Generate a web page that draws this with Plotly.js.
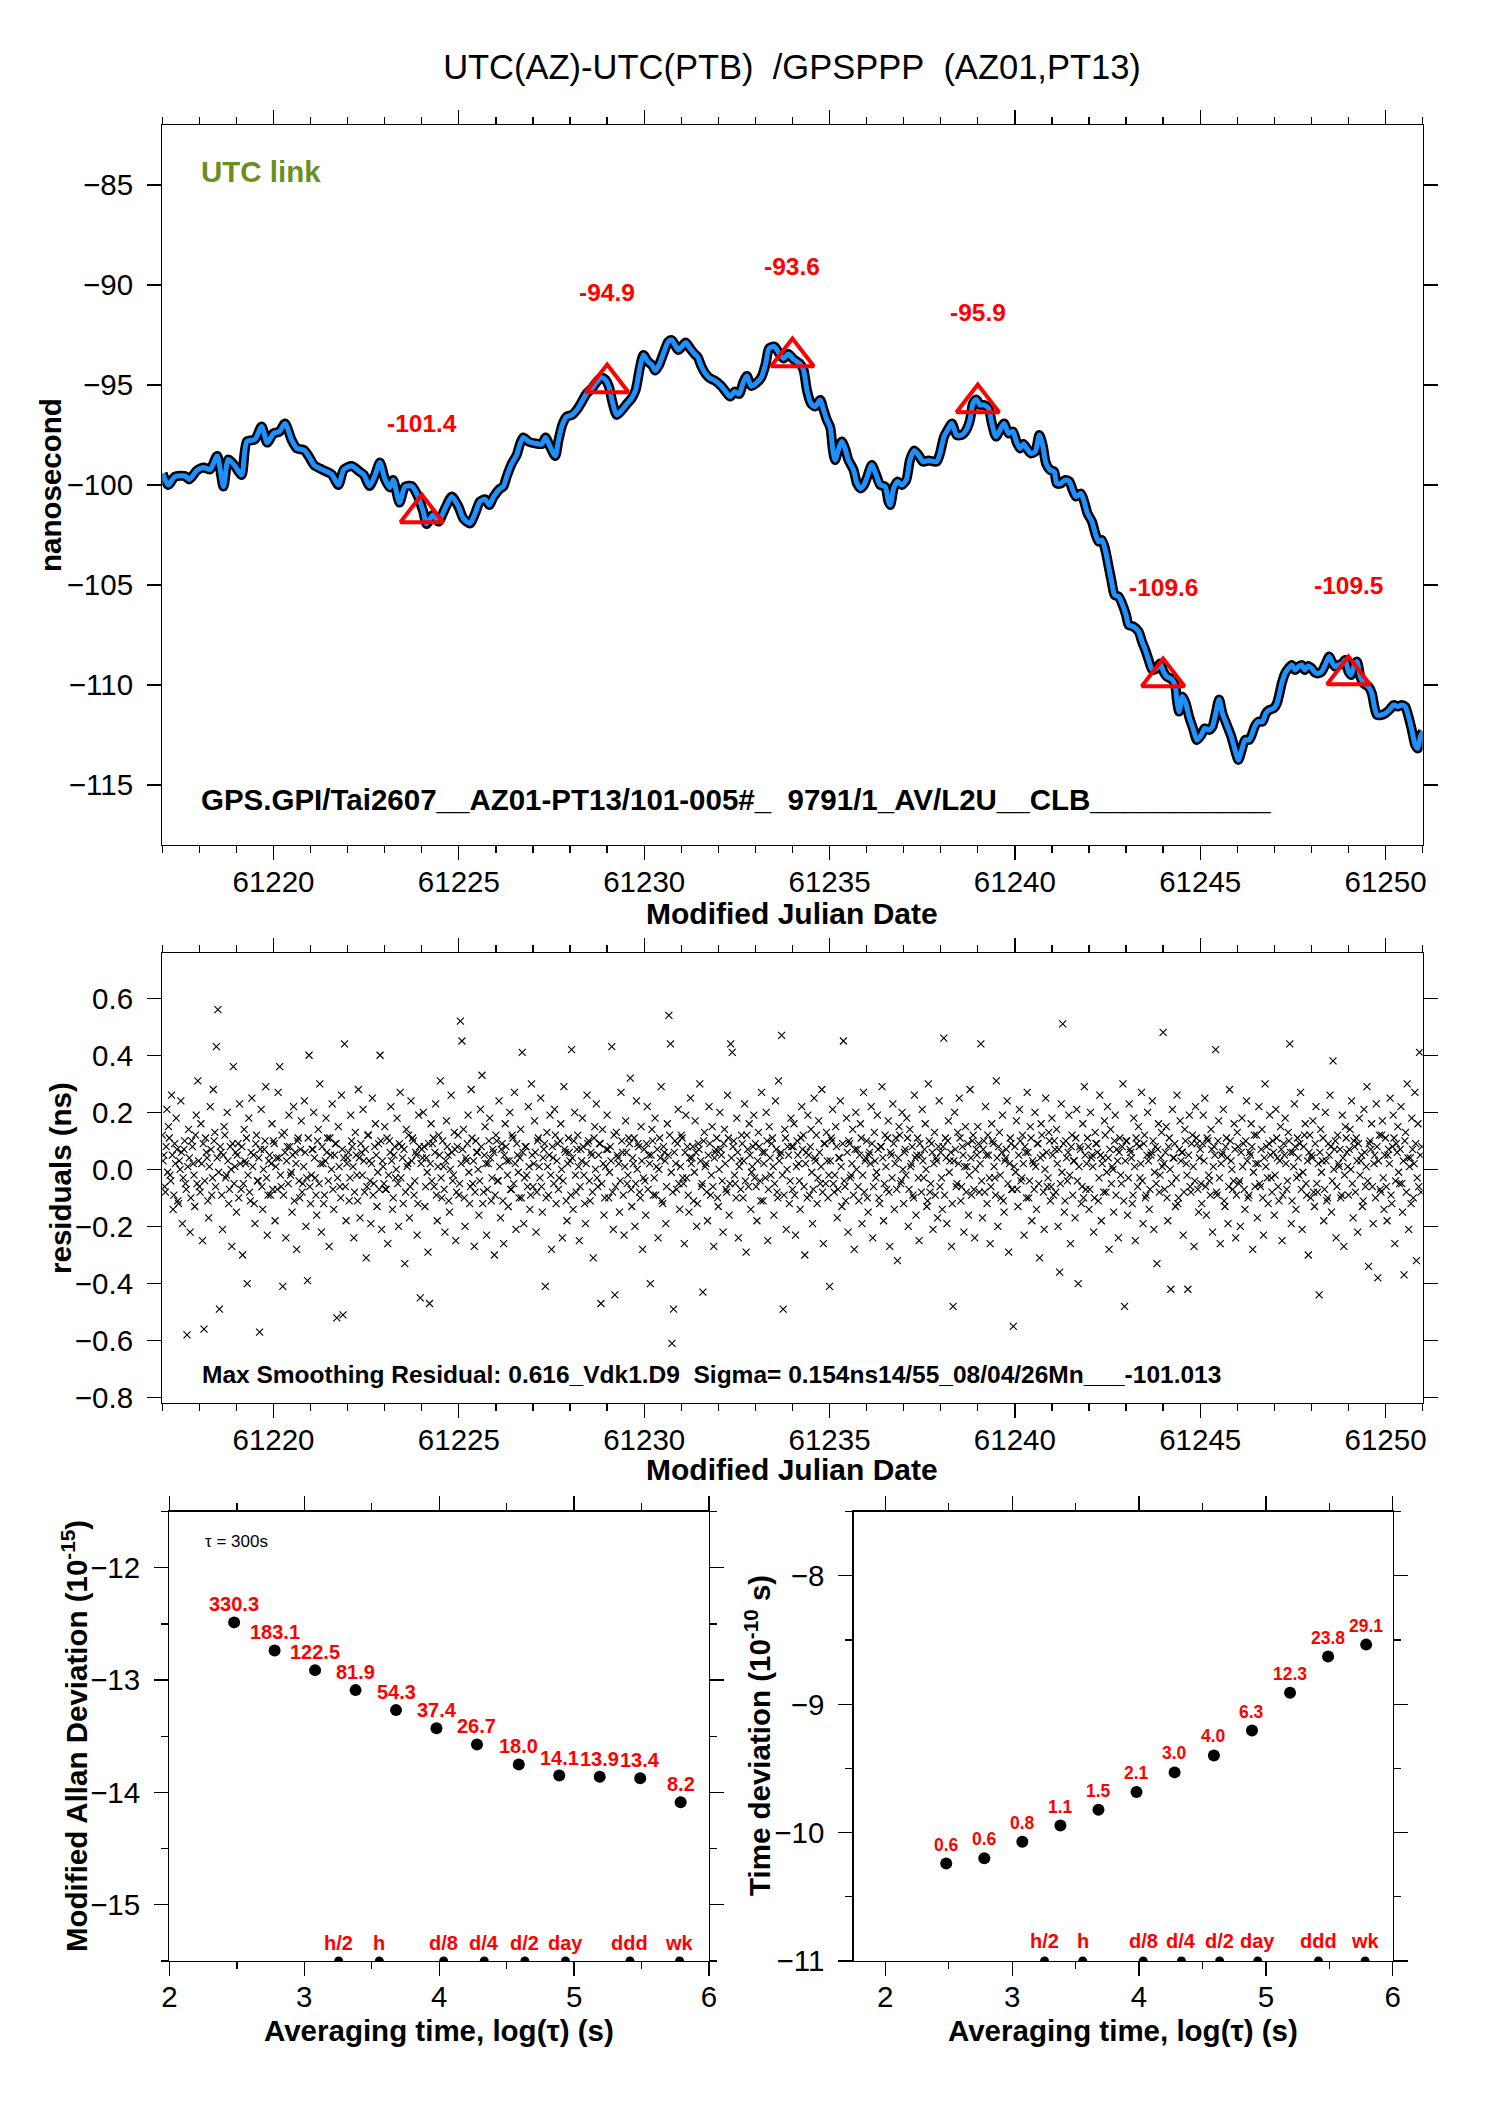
<!DOCTYPE html>
<html>
<head>
<meta charset="utf-8">
<script src="https://cdn.plot.ly/plotly-3.0.1.min.js"></script>
<style>html,body{margin:0;padding:0;background:#fff}</style>
</head>
<body>
<div id="chart" style="width:1488px;height:2105px"></div>
<script>
// ---------- DATA ----------
// Top panel: smoothed UTC(AZ)-UTC(PTB) curve (MJD, ns)
const smoothT = [61217.01,61217.16,61217.34,61217.61,61217.73,61217.93,61218.11,61218.29,61218.48,61218.65,61218.78,61218.96,61219.14,61219.28,61219.50,61219.68,61219.83,61220.00,61220.16,61220.31,61220.49,61220.63,61220.82,61220.97,61221.09,61221.30,61221.57,61221.75,61221.90,61222.11,61222.32,61222.44,61222.59,61222.74,61222.87,61223.01,61223.14,61223.23,61223.40,61223.55,61223.73,61223.86,61224.04,61224.13,61224.30,61224.45,61224.63,61224.81,61224.99,61225.12,61225.30,61225.44,61225.57,61225.71,
61225.82,61225.93,61226.09,61226.20,61226.29,61226.43,61226.56,61226.65,61226.74,61226.88,61227.06,61227.24,61227.34,61227.46,61227.60,61227.69,61227.79,61227.91,61228.05,61228.18,61228.32,61228.45,61228.59,61228.69,61228.84,61228.96,61229.05,61229.14,61229.26,61229.40,61229.53,61229.66,61229.77,61229.89,61229.98,61230.10,61230.21,61230.30,61230.40,61230.52,61230.65,61230.74,61230.83,61230.92,61231.03,61231.12,61231.24,61231.36,61231.45,61231.54,61231.66,61231.78,61231.91,61232.08,61232.20,61232.32,61232.44,61232.56,61232.68,61232.77,61232.89,61233.04,61233.17,61233.28,61233.37,61233.51,61233.64,61233.76,61233.89,61234.03,61234.21,
61234.30,61234.39,61234.50,61234.61,61234.75,61234.84,61234.93,61235.02,61235.09,61235.15,61235.24,61235.33,61235.42,61235.51,61235.65,61235.74,61235.84,61235.93,61236.02,61236.14,61236.26,61236.37,61236.50,61236.59,61236.64,61236.73,61236.83,61236.95,61237.07,61237.17,61237.28,61237.40,61237.52,61237.67,61237.89,61237.98,61238.09,61238.21,61238.30,61238.43,61238.57,61238.69,61238.79,61238.87,61238.96,61239.06,61239.17,61239.29,61239.38,61239.49,61239.60,61239.71,61239.83,61239.95,61240.05,61240.14,61240.23,61240.34,61240.43,61240.55,61240.66,61240.75,61240.84,61240.95,61241.06,61241.13,61241.24,61241.36,61241.47,61241.56,61241.65,61241.78,61241.87,61241.96,61242.08,61242.17,61242.26,61242.35,61242.44,61242.53,
61242.62,61242.69,61242.80,61242.89,61243.00,61243.07,61243.20,61243.34,61243.43,61243.52,61243.61,61243.71,61243.83,61243.92,61244.01,61244.10,61244.24,61244.33,61244.37,61244.43,61244.52,61244.61,61244.70,61244.82,61244.91,61245.03,61245.12,61245.24,61245.33,61245.42,61245.51,61245.60,61245.72,61245.84,61245.94,61246.03,61246.12,61246.21,61246.32,61246.39,61246.47,61246.57,61246.68,61246.77,61246.86,61246.98,61247.07,61247.13,61247.20,61247.29,61247.38,61247.47,61247.56,61247.65,61247.74,61247.82,61247.91,61248.01,61248.10,61248.19,61248.28,61248.37,61248.48,61248.55,61248.64,61248.73,61248.82,61248.91,61249.00,61249.07,61249.16,61249.23,61249.32,61249.41,61249.54,61249.63,61249.70,61249.77,61249.88,61249.99,61250.10,61250.22,61250.33,61250.44,61250.53,61250.62,61250.71,61250.80,61250.87,61250.94,61251.01];
const smoothV = [-99.42,-100.0,-99.58,-99.55,-99.72,-99.28,-99.12,-99.22,-98.55,-100.08,-98.72,-99.05,-99.5,-97.83,-97.72,-97.08,-97.88,-97.42,-97.33,-96.92,-97.75,-98.17,-98.25,-98.62,-99.0,-99.22,-99.47,-100.0,-99.22,-99.05,-99.33,-99.5,-100.05,-99.5,-98.88,-99.72,-100.12,-99.75,-100.88,-100.08,-100.05,-100.42,-101.33,-101.95,-101.5,-101.83,-101.17,-100.58,-101.08,-101.67,-101.92,-101.42,-100.83,-100.72,
-101.0,-100.62,-100.22,-100.08,-99.58,-98.92,-98.5,-97.95,-97.62,-97.83,-97.92,-97.95,-97.62,-98.08,-98.55,-97.75,-97.0,-96.58,-96.5,-96.25,-95.83,-95.42,-95.17,-94.92,-94.62,-94.75,-95.08,-95.83,-96.5,-96.25,-95.95,-95.67,-95.25,-94.08,-93.5,-93.83,-94.0,-94.28,-94.0,-93.42,-92.83,-92.75,-93.0,-93.25,-93.05,-92.88,-93.17,-93.45,-93.62,-94.05,-94.45,-94.67,-94.78,-95.05,-95.33,-95.58,-95.33,-95.45,-94.83,-94.55,-95.05,-94.88,-94.58,-93.92,-93.17,-93.08,-93.42,-93.67,-93.45,-93.72,-93.95,
-94.25,-95.25,-95.92,-96.08,-95.75,-96.25,-96.75,-97.12,-98.25,-98.75,-98.25,-97.83,-98.17,-98.75,-99.25,-99.92,-100.17,-100.0,-99.58,-99.0,-99.5,-100.0,-100.08,-100.83,-101.0,-100.17,-99.83,-100.0,-99.75,-98.75,-98.28,-98.5,-98.83,-98.78,-98.83,-98.42,-97.58,-97.17,-96.92,-97.5,-97.5,-97.25,-96.75,-95.92,-95.72,-96.0,-96.0,-96.17,-96.92,-97.58,-97.25,-96.92,-97.42,-97.33,-97.88,-98.17,-97.95,-98.22,-98.42,-98.33,-97.5,-98.0,-98.92,-99.25,-99.33,-99.92,-99.92,-99.75,-99.83,-100.25,-100.58,-100.42,-100.83,-101.42,-101.83,-102.42,-102.83,-102.75,-103.25,-104.08,
-104.92,-105.5,-105.58,-105.92,-106.5,-107.0,-107.08,-107.33,-107.83,-108.25,-108.75,-109.25,-109.17,-108.92,-109.33,-109.58,-109.72,-110.08,-110.75,-111.33,-110.58,-110.92,-111.58,-112.25,-112.75,-112.5,-112.17,-112.25,-112.08,-111.42,-110.72,-111.42,-112.0,-112.58,-113.25,-113.75,-113.25,-112.75,-112.75,-112.5,-112.08,-111.83,-111.83,-111.42,-111.25,-111.17,-110.92,-110.5,-109.92,-109.42,-109.17,-109.0,-109.25,-109.08,-109.0,-109.25,-109.05,-109.17,-109.38,-109.42,-109.33,-109.0,-108.58,-108.83,-109.08,-109.0,-108.95,-108.75,-109.33,-109.5,-109.0,-108.83,-109.58,-109.92,-110.08,-110.42,-111.08,-111.5,-111.5,-111.42,-111.25,-111.0,-111.08,-111.0,-111.08,-111.58,-112.25,-113.0,-113.17,-112.58,-112.33];

// Marked epochs (triangles) with their values
const markT = [61224, 61229, 61234, 61239, 61244, 61249];
const markV = [-101.4, -94.9, -93.6, -95.9, -109.6, -109.5];
const markLabels = ['-101.4', '-94.9', '-93.6', '-95.9', '-109.6', '-109.5'];

// Middle panel: residuals (ns); residA on the hour, residB at half past, from MJD 61217
const resStart = 61217;
const resPerDay = 24;
const residA = [
.12,.05,-.08,.21,.15,-.02,.26,-.14,.09,.18,-.11,.03,.24,-.19,.07,-.05,-.58,.14,-.22,.10,.02,-.13,.19,.31,
-.06,.16,-.25,-.56,.11,.04,-.17,.22,-.09,.28,.13,.43,.56,-.49,.06,-.21,.15,-.03,.20,-.12,.08,-.27,.36,.01,
-.15,.09,.23,-.07,-.30,.14,.02,-.40,.18,-.11,.25,.05,-.19,.12,-.04,-.57,.21,-.14,.07,.29,-.23,.03,-.09,.16,
.10,-.18,.04,.27,.36,-.06,-.41,.13,-.24,.08,.19,-.02,-.15,.22,.06,-.28,.11,-.10,.17,-.05,.24,-.20,-.39,.40,
-.12,.07,.20,-.03,-.16,.14,.30,-.22,.02,-.09,.18,.11,-.27,.05,.23,-.14,.09,-.52,.15,-.06,.26,-.51,.44,-.18,
.04,-.11,.19,.08,-.24,.13,-.02,.28,-.17,.06,.21,-.08,-.31,.12,.03,-.19,.25,-.05,.16,-.13,.09,.40,-.21,.01,
.15,-.07,-.26,.10,.22,-.14,.05,-.03,.18,-.20,.27,.08,-.12,-.33,.14,.02,-.17,.24,.11,-.09,.06,-.23,.19,-.45,
.07,.20,-.13,.04,-.29,-.47,.16,.09,-.06,.23,-.18,.12,.31,-.10,.01,-.22,.17,.05,-.15,.26,-.04,.13,-.25,.08,
-.09,.52,.45,.14,-.20,.03,.19,-.12,.28,-.05,-.27,.10,.06,-.16,.21,.33,-.08,.15,-.23,.02,.18,-.11,.07,-.30,
.12,-.04,.24,-.17,.09,-.26,.16,.03,-.13,.20,-.07,.11,.27,-.21,.05,-.10,.14,.41,-.19,.08,-.02,.22,-.14,.30,
-.06,.17,-.22,.10,.01,.25,-.15,.07,-.41,.13,-.09,.19,-.28,.04,.21,-.12,.09,-.03,.16,-.24,.29,.06,-.18,.11,
.03,.42,-.14,.20,-.08,.12,-.25,.07,.18,-.02,-.19,.26,.10,-.11,.05,-.31,.15,.23,-.06,.09,-.47,.14,-.16,.01,
.19,-.10,.08,.43,-.21,-.44,.13,.04,-.15,.27,.06,-.23,.17,-.05,.11,.32,-.13,.02,-.20,.24,.09,-.08,.15,-.28,
.07,-.16,.22,.05,-.40,.14,-.09,.18,.01,-.24,.11,.29,-.12,.06,-.19,.16,.54,.44,-.61,-.49,.10,-.07,.21,-.14,
.12,-.03,-.26,.19,.08,-.15,.25,.04,-.11,.17,-.20,.09,.30,-.06,-.43,.13,.02,-.18,.22,-.09,.15,-.27,.06,.11,
-.13,.20,.05,-.22,.14,-.07,.26,-.16,.44,.41,.10,-.05,.18,-.24,.03,.12,-.10,.23,-.29,.07,.16,-.14,.01,.19,
.09,-.18,.13,-.04,.27,-.11,.06,.20,-.25,.15,-.02,.11,-.16,.24,-.08,.31,.05,.47,-.49,.14,-.21,.08,-.12,.18,
-.07,.16,-.23,.10,.02,-.14,.22,.12,-.30,.06,.19,-.09,.14,-.19,.25,.03,-.12,.17,-.05,.28,-.26,.09,.13,-.10,
-.41,.11,.21,-.08,.15,-.17,.04,.24,-.13,.45,-.06,.18,-.22,.09,-.02,.14,-.28,.20,.07,-.11,.16,-.19,.27,.03,
.10,-.15,.06,.22,-.24,.13,-.03,.19,-.10,.08,.29,-.18,.12,-.07,.17,-.27,.05,.23,-.14,.11,-.32,.15,-.05,.20,
-.12,.07,.18,-.20,.14,.02,-.09,.26,-.16,.11,-.25,.05,.21,-.03,.16,-.13,.30,-.08,.09,-.21,.13,.04,-.17,.24,
.06,-.14,.46,.11,-.19,.17,.03,-.27,-.48,.20,-.06,.13,.25,-.11,.08,-.22,.15,.01,-.16,.28,-.09,.12,-.24,.07,
.15,-.08,.44,-.17,.10,.22,-.12,.05,-.26,.16,.09,-.03,.31,-.20,.13,-.10,.19,-.15,.04,.24,-.29,.11,-.07,-.55,
.08,.17,-.13,.21,-.04,.12,-.23,.06,.27,-.10,.15,-.18,.02,.20,-.14,.09,-.31,.16,.05,-.21,.25,-.06,.13,-.11,
.18,-.09,.07,.14,-.20,-.36,.23,.51,-.15,.10,-.04,.19,-.26,.12,.03,-.17,.21,-.40,.08,-.12,.16,.29,-.07,.11,
-.14,.20,.05,-.22,.13,.09,-.11,.26,-.18,.04,.17,-.08,.22,-.28,.14,.01,-.15,.19,.07,-.24,.11,-.05,.30,-.48,
.10,-.16,.23,.06,-.12,.18,-.25,.09,.15,-.03,.27,-.19,.12,-.09,.20,-.14,.05,.24,-.21,.08,-.33,.16,-.02,.13,
.48,-.07,.15,-.18,.11,-.42,.21,.04,-.13,.26,-.10,.17,.06,-.23,.14,.02,-.42,.19,-.08,.12,-.27,.22,.09,-.15,
.07,-.12,.19,.25,-.16,.10,-.04,.14,-.22,.08,.42,-.09,.17,-.26,.05,.21,-.13,.11,-.19,.28,.03,-.07,.16,-.24,
.13,-.05,-.20,.18,.09,-.14,.24,-.10,.06,.16,-.28,.12,.02,-.17,.22,-.06,.14,-.23,.30,.08,-.12,.19,-.03,.10,
-.16,.21,.04,-.11,.15,-.25,.09,.18,-.07,.13,.44,-.19,.06,.23,-.14,.11,-.02,.27,-.21,.08,.16,-.09,-.30,.12,
.05,.17,-.13,.22,-.08,-.44,.14,.03,-.18,.20,-.11,.09,.26,-.15,.38,.07,-.24,.12,.01,-.10,.19,-.27,.15,.06,
-.09,.14,.24,-.17,.08,.11,-.22,.18,.03,-.13,.21,-.06,.29,-.34,.10,.16,-.19,.05,.23,-.38,.12,-.08,.17,-.14,
.11,-.18,.07,.25,-.12,.19,-.26,.09,.15,-.05,.22,-.15,-.37,.13,.30,-.21,.04,.18,-.10,.27,-.32,.16,.41,-.08
];
const residB = [
.03,-.06,.08,-.01,.11,-.04,.05,-.09,.02,.07,-.12,.00,.06,-.03,.10,-.07,.01,.04,-.10,.08,-.02,.12,-.05,.03,
-.08,.02,.09,-.04,.06,-.11,.01,.07,-.03,.10,-.06,.04,-.01,.08,-.09,.05,.12,-.02,.03,-.07,.00,.09,-.05,.06,
.05,-.10,.02,.08,-.05,.03,.11,-.02,-.08,.06,.01,-.12,.09,-.04,.04,.07,-.06,.00,.10,-.03,-.09,.05,.02,-.07,
.09,.01,-.07,.04,-.02,.12,-.09,.06,.03,-.05,.08,-.01,.05,-.11,.02,.10,-.04,.07,-.08,.01,.06,-.03,.11,-.06,
-.02,.07,.04,-.09,.10,-.05,.02,.08,-.12,.03,.06,-.04,.11,.00,-.07,.05,.09,-.03,.01,-.10,.07,.04,-.06,.02,
.06,-.03,.10,.01,-.08,.05,-.11,.04,.09,-.02,.03,.07,-.06,.12,-.04,.02,-.09,.08,.05,-.01,-.07,.10,.03,-.05,
-.07,.11,-.02,.06,.03,-.10,.08,.00,-.05,.09,-.03,.04,.07,-.08,.01,.12,-.06,.03,.10,-.04,.05,-.12,.08,.02,
.04,.08,-.06,-.01,.09,.02,-.04,.11,.06,-.09,.01,.05,-.03,.10,-.07,.03,.08,-.11,.00,.06,-.02,.07,-.08,.12,
-.05,.02,.07,-.10,.04,.09,-.01,-.06,.11,.03,-.08,.06,.00,-.04,.08,-.12,.05,.02,-.07,.10,.04,-.03,.06,-.09,
.10,-.04,.01,.07,-.11,.05,.08,-.02,.03,-.07,.12,-.05,.02,.09,-.01,.04,-.10,.06,-.03,.08,-.06,.01,-.09,.05,
.02,.06,-.08,.11,-.03,-.06,.04,.09,-.10,.01,.05,-.02,.08,-.05,.12,.03,-.07,.10,.00,-.04,.07,-.11,.02,.06,
-.09,.04,.10,-.02,.07,.01,-.06,.03,.08,-.12,.02,.09,-.04,.06,-.08,.11,.00,-.03,.05,.09,-.05,.02,-.10,.07,
.07,-.01,.03,-.08,.12,-.06,.05,.02,-.04,.10,-.09,.01,.06,-.02,.09,-.07,.04,.11,-.05,.00,.08,-.10,.03,-.03,
-.04,.09,-.07,.02,.05,.10,-.03,-.09,.07,.00,.04,-.11,.08,.03,-.06,.05,.12,-.01,-.08,.06,.02,.09,-.05,.01,
.11,-.05,.06,-.03,-.09,.04,.02,.08,-.01,.06,-.12,.07,.03,-.05,.10,.01,-.08,.05,.09,-.02,-.06,.04,.07,-.10,
.00,.07,-.04,.09,.02,-.08,.11,-.05,.04,.08,-.02,-.10,.06,.01,-.07,.09,.03,-.04,.12,-.06,.05,-.01,.08,-.03,
-.06,.03,.08,-.11,.06,.02,-.03,.10,-.07,.04,.09,.01,-.05,.07,-.10,.03,.06,-.02,-.09,.11,.00,.05,-.04,.08,
.08,-.09,.01,.05,-.04,.11,.07,-.06,.02,-.10,.05,.08,-.01,-.07,.04,.12,-.03,.06,.01,-.08,.09,-.05,.03,-.02,
.03,.10,-.05,-.02,.08,-.07,.04,.01,.09,-.04,-.11,.06,.10,-.03,.02,-.09,.07,.00,-.06,.05,.11,-.02,-.08,.04,
-.10,.05,.02,.09,-.06,.03,-.01,.07,-.12,.08,.04,-.05,.01,.11,-.08,.06,-.03,.09,.02,-.07,.04,.12,-.04,.00,
.06,-.02,.11,-.07,.01,.08,-.10,.04,.05,-.03,.09,-.08,.03,.07,.00,-.11,.10,-.05,.06,.02,-.09,.03,.08,-.06,
-.03,.08,-.09,.04,.10,-.01,.06,-.12,.03,.07,-.05,.02,.11,-.06,.05,.01,-.08,.09,-.02,.04,.10,-.07,.00,.05,
.09,.02,-.04,.07,-.08,.05,.12,-.03,-.06,.10,.01,-.09,.04,.08,-.02,.06,-.11,.03,.07,-.05,.02,.09,-.07,.01,
-.01,-.07,.05,.10,-.03,.02,.08,-.10,.06,-.04,.11,.03,-.07,.01,.09,-.05,.04,.12,-.08,.00,.06,-.03,.10,-.06,
.05,.10,-.08,.02,.07,-.05,-.01,.09,-.11,.04,.06,-.02,.08,-.09,.03,.11,-.04,.01,.07,-.06,-.10,.05,.02,.08,
-.07,.04,.01,-.10,.09,.06,-.03,.05,.02,-.08,.12,-.01,.04,.07,-.05,.00,.10,-.09,.03,.06,-.02,.08,-.11,.03,
.10,-.03,.07,.04,-.09,.01,.11,-.06,.08,.02,-.04,.09,-.10,.05,.03,-.07,.06,.10,-.01,-.05,.07,-.08,.04,.01,
.02,.06,-.10,.08,.00,-.05,.04,.09,-.03,-.12,.07,.03,.06,-.08,.10,-.02,.05,-.06,.09,.01,-.04,.11,-.07,.04,
-.05,.09,.03,-.06,.11,-.02,-.09,.07,.01,.05,-.08,.10,-.03,.02,.06,-.11,.08,.04,-.06,.10,.00,-.04,.07,-.09,
.08,-.04,.06,.01,-.07,.10,.03,-.09,.05,.08,-.01,-.06,.12,.02,-.05,.07,-.10,.04,.01,-.03,.09,.05,-.08,.06,
-.02,.11,-.06,.03,.07,-.09,.05,.02,-.04,.10,.06,-.11,.01,.08,-.03,.04,.09,-.07,-.01,.12,-.05,.03,.06,-.10,
.04,-.08,.09,-.05,.02,.06,-.01,.11,-.07,.03,-.10,.05,.08,-.04,.00,.10,-.06,.02,.07,-.09,.04,-.02,.11,.01,
.07,.00,-.05,.10,-.08,.03,.09,-.02,.05,-.11,.06,.01,-.04,.09,.07,-.06,.02,-.10,.08,.03,-.07,.12,-.03,.05,
-.06,.05,.02,-.09,.08,.11,-.04,.06,-.01,.07,-.05,.03,.10,-.08,.04,.01,-.12,.07,.02,.09,-.03,-.06,.05,.08
];

// Bottom panels
const tauLog = [2.48, 2.78, 3.08, 3.38, 3.68, 3.98, 4.28, 4.59, 4.89, 5.19, 5.49, 5.79];
const allanLog = [-12.486, -12.736, -12.911, -13.089, -13.267, -13.428, -13.572, -13.750, -13.849, -13.860, -13.873, -14.086];
const allanLabels = ['330.3','183.1','122.5','81.9','54.3','37.4','26.7','18.0','14.1','13.9','13.4','8.2'];
const tdevLog = [-10.241, -10.200, -10.071, -9.945, -9.822, -9.684, -9.531, -9.399, -9.205, -8.911, -8.629, -8.536];
const tdevLabels = ['0.6','0.6','0.8','1.1','1.5','2.1','3.0','4.0','6.3','12.3','23.8','29.1'];
const spanLog = [3.255, 3.556, 4.033, 4.334, 4.635, 4.936, 5.414, 5.782];
const spanLabels = ['h/2','h','d/8','d/4','d/2','day','ddd','wk'];
const allanFloor = -15.5;
const tdevFloor = -11;

// ---------- LAYOUT HELPERS ----------
const W = 1488, H = 2105;
const FONT = 'Liberation Sans, Arial, Helvetica, sans-serif';
const px = v => v / W;
const py = v => 1 - v / H;
const resTA = residA.map((_, i) => resStart + i / resPerDay);
const resTB = residB.map((_, i) => resStart + (i + 0.5) / resPerDay);

const RED = '#ff0000';
const BLUE = 'rgb(30,144,255)';

function axisBase(extra) {
  return Object.assign({
    showline: true, linecolor: 'black', linewidth: 1.3, mirror: 'ticks',
    ticks: 'outside', ticklen: 14, tickwidth: 1.3, tickcolor: 'black',
    showgrid: false, zeroline: false,
    tickfont: {family: FONT, size: 29.5, color: 'black'},
    ticklabelstandoff: 8, fixedrange: true
  }, extra);
}

const traces = [
  {x: smoothT, y: smoothV, xaxis: 'x', yaxis: 'y', mode: 'lines',
   line: {color: 'black', width: 10, shape: 'spline', smoothing: 0.7}},
  {x: smoothT, y: smoothV, xaxis: 'x', yaxis: 'y', mode: 'lines',
   line: {color: BLUE, width: 5, shape: 'spline', smoothing: 0.7}},
  {x: markT, y: markV, xaxis: 'x', yaxis: 'y', mode: 'markers',
   marker: {symbol: 'triangle-up-open', size: 37, color: RED, line: {color: RED, width: 4}}},
  {x: resTA.concat(resTB), y: residA.concat(residB), xaxis: 'x2', yaxis: 'y2', mode: 'markers',
   marker: {symbol: 'x-thin', size: 7, color: 'black', line: {color: 'black', width: 1.1}}},
  {x: tauLog, y: allanLog, xaxis: 'x3', yaxis: 'y3', mode: 'markers',
   marker: {symbol: 'circle', size: 12, color: 'black'}},
  {x: spanLog, y: spanLog.map(() => allanFloor), xaxis: 'x3', yaxis: 'y3', mode: 'markers',
   marker: {symbol: 'circle', size: 9, color: 'black'}},
  {x: tauLog, y: tdevLog, xaxis: 'x4', yaxis: 'y4', mode: 'markers',
   marker: {symbol: 'circle', size: 12, color: 'black'}},
  {x: spanLog, y: spanLog.map(() => tdevFloor), xaxis: 'x4', yaxis: 'y4', mode: 'markers',
   marker: {symbol: 'circle', size: 9, color: 'black'}}
];

const ann = [];
function paperText(text, x, y, size, opts) {
  ann.push(Object.assign({
    text: text, xref: 'paper', yref: 'paper', x: px(x), y: py(y),
    showarrow: false, xanchor: 'center', yanchor: 'middle',
    font: {family: FONT, size: size, color: 'black'}
  }, opts || {}));
}

// Text in the panels
paperText('<b>UTC link</b>', 199, 172, 29.5, {xanchor: 'left', font: {family: FONT, size: 29.5, color: 'rgb(107,142,35)'}});
paperText('<b>GPS.GPI/Tai2607__AZ01-PT13/101-005#_\u00a0\u00a09791/1_AV/L2U__CLB___________</b>', 199, 799, 29.5, {xanchor: 'left'});
paperText('<b>Max Smoothing Residual: 0.616_Vdk1.D9\u00a0\u00a0Sigma= 0.154ns14/55_08/04/26Mn___-101.013</b>', 200, 1374, 24.5, {xanchor: 'left'});
paperText('\u03c4 = 300s', 203, 1541, 17, {xanchor: 'left'});

// Axis titles
paperText('<b>Modified Julian Date</b>', 792, 913, 30);
paperText('<b>Modified Julian Date</b>', 792, 1469, 30);
paperText('<b>nanosecond</b>', 50, 485, 29.5, {textangle: -90});
paperText('<b>residuals (ns)</b>', 60, 1178, 29.5, {textangle: -90});
paperText('<b>Modified Allan Deviation (10<sup>-15</sup>)</b>', 74, 1736, 29.5, {textangle: -90});
paperText('<b>Time deviation (10<sup>-10</sup> s)</b>', 757, 1736, 29.5, {textangle: -90});
paperText('<b>Averaging time, log(\u03c4) (s)</b>', 439, 2030, 29.5);
paperText('<b>Averaging time, log(\u03c4) (s)</b>', 1123, 2030, 29.5);

// Red value labels
markT.forEach((t, i) => ann.push({
  text: '<b>' + markLabels[i] + '</b>', xref: 'x', yref: 'y', x: t, y: markV[i], yshift: 90,
  showarrow: false, xanchor: 'center', yanchor: 'middle',
  font: {family: FONT, size: 24.5, color: RED}
}));
tauLog.forEach((t, i) => ann.push({
  text: '<b>' + allanLabels[i] + '</b>', xref: 'x3', yref: 'y3', x: t, y: allanLog[i], yshift: 18,
  showarrow: false, xanchor: 'center', yanchor: 'middle',
  font: {family: FONT, size: 20, color: RED}
}));
tauLog.forEach((t, i) => ann.push({
  text: '<b>' + tdevLabels[i] + '</b>', xref: 'x4', yref: 'y4', x: t, y: tdevLog[i], yshift: 19,
  showarrow: false, xanchor: 'center', yanchor: 'middle',
  font: {family: FONT, size: 17.5, color: RED}
}));
spanLog.forEach((t, i) => {
  ann.push({
    text: '<b>' + spanLabels[i] + '</b>', xref: 'x3', yref: 'y3', x: t, y: allanFloor, yshift: 18,
    showarrow: false, xanchor: 'center', yanchor: 'middle',
    font: {family: FONT, size: 20, color: RED}
  });
  ann.push({
    text: '<b>' + spanLabels[i] + '</b>', xref: 'x4', yref: 'y4', x: t, y: tdevFloor, yshift: 20,
    showarrow: false, xanchor: 'center', yanchor: 'middle',
    font: {family: FONT, size: 20, color: RED}
  });
});

const mjdAxis = {range: [61217, 61251], dtick: 5, tick0: 61220, tickformat: 'd', ticklabelstandoff: -4,
  minor: {dtick: 1, ticklen: 7, ticks: 'outside', tickcolor: 'black', tickwidth: 1.3}};
const logAxisMinor = {dtick: 0.5, ticklen: 7, ticks: 'outside', tickcolor: 'black', tickwidth: 1.3};

const layout = {
  width: W, height: H,
  margin: {l: 0, r: 0, t: 0, b: 0},
  paper_bgcolor: 'white', plot_bgcolor: 'white',
  showlegend: false,
  title: {text: 'UTC(AZ)-UTC(PTB)\u00a0\u00a0/GPSPPP\u00a0\u00a0(AZ01,PT13)', x: px(792), y: py(67),
          xanchor: 'center', yanchor: 'middle', xref: 'paper', yref: 'paper',
          font: {family: FONT, size: 34.5, color: 'black'}},
  xaxis: axisBase(Object.assign({domain: [px(162.3), px(1422.6)], anchor: 'y'}, mjdAxis)),
  yaxis: axisBase({domain: [py(845), py(125)], anchor: 'x', range: [-118, -82], dtick: 5, tick0: 0}),
  xaxis2: axisBase(Object.assign({domain: [px(162.3), px(1422.6)], anchor: 'y2'}, mjdAxis)),
  yaxis2: axisBase({domain: [py(1402.8), py(953.4)], anchor: 'x2', range: [-0.818, 0.757], dtick: 0.2, tick0: 0, tickformat: '.1f'}),
  xaxis3: axisBase({domain: [px(169.4), px(709)], anchor: 'y3', range: [2, 6], dtick: 1, tick0: 0, minor: logAxisMinor, ticklabelstandoff: -5}),
  yaxis3: axisBase({domain: [py(1961), py(1511.6)], anchor: 'x3', range: [-15.5, -11.5], dtick: 1, tick0: 0, minor: logAxisMinor}),
  xaxis4: axisBase({domain: [px(853.6), px(1392.8)], anchor: 'y4', range: [1.75, 6], dtick: 1, tick0: 0, minor: logAxisMinor, ticklabelstandoff: -5}),
  yaxis4: axisBase({domain: [py(1961), py(1511.6)], anchor: 'x4', range: [-11, -7.5], dtick: 1, tick0: 0, minor: logAxisMinor}),
  annotations: ann
};

Plotly.newPlot('chart', traces, layout, {staticPlot: true, displayModeBar: false});
</script>
</body>
</html>
